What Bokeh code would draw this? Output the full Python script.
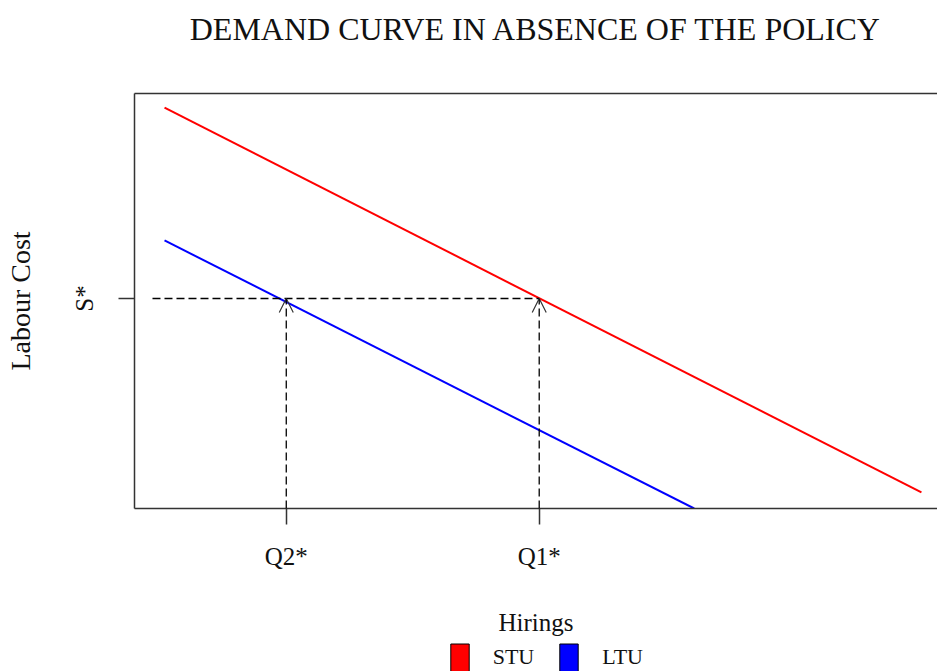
from bokeh.plotting import figure
from bokeh.layouts import column
from bokeh.models import (Range1d, LinearAxis, FixedTicker, Arrow, OpenHead,
                          Legend, LegendItem)
from bokeh.embed import file_html
from bokeh.resources import INLINE

# ---- data ----
stu_x = [0.374, 9.80]
stu_y = [9.66, 0.386]
ltu_x = [0.374, 6.97]
ltu_y = [6.46, 0.0]
s_star = 5.06
q2_star = 1.89
q1_star = 5.04
guide_start = 0.224
x_ticks = [q2_star, q1_star]
x_tick_labels = ["Q2*", "Q1*"]
y_ticks = [s_star]
y_tick_labels = ["S*"]
series_names = ["STU", "LTU"]
series_colors = ["#ff0000", "#0000ff"]
title_text = "DEMAND CURVE IN ABSENCE OF THE POLICY"

FONT = "Liberation Serif"
NAN = float("nan")

p = figure(width=937, height=638, output_backend="svg", toolbar_location=None,
           x_range=Range1d(0, 10), y_range=Range1d(0, 10),
           x_axis_type=None, y_axis_type=None,
           min_border_left=134, min_border_right=0, min_border_top=93,
           min_border_bottom=130)
p.outline_line_color = None
p.xgrid.visible = False
p.ygrid.visible = False
p.background_fill_color = "white"
p.border_fill_color = "white"

def style_axis(ax):
    ax.axis_line_color = "#333333"
    ax.axis_line_width = 1.5
    ax.major_tick_line_color = "#333333"
    ax.major_tick_line_width = 1.5
    ax.major_tick_out = 16
    ax.major_tick_in = 0
    ax.minor_tick_line_color = None
    ax.major_label_text_font = FONT
    ax.major_label_text_color = "#111111"
    ax.axis_label_text_font = FONT
    ax.axis_label_text_font_style = "normal"
    ax.axis_label_text_color = "#111111"

# top edge of the box, carrying the chart title
ta = LinearAxis(ticker=FixedTicker(ticks=[]), axis_label=title_text)
style_axis(ta)
ta.major_tick_out = 0
ta.major_label_standoff = 0
ta.axis_label_text_font_size = "32px"
ta.axis_label_standoff = 47
p.add_layout(ta, "above")

xa = LinearAxis(ticker=FixedTicker(ticks=x_ticks),
                major_label_overrides=dict(zip(x_ticks, x_tick_labels)),
                axis_label="Hirings")
style_axis(xa)
xa.major_label_text_font_size = "25px"
xa.axis_label_text_font_size = "25px"
xa.major_label_standoff = 18
xa.axis_label_standoff = 36
p.add_layout(xa, "below")

ya = LinearAxis(ticker=FixedTicker(ticks=y_ticks),
                major_label_overrides=dict(zip(y_ticks, y_tick_labels)),
                axis_label="Labour Cost")
style_axis(ya)
ya.major_label_text_font_size = "25px"
ya.major_label_orientation = "vertical"
ya.axis_label_text_font_size = "28px"
ya.major_label_standoff = 20
ya.axis_label_standoff = 33
p.add_layout(ya, "left")

# demand curves
p.line(stu_x, stu_y, line_color=series_colors[0], line_width=2)
p.line(ltu_x, ltu_y, line_color=series_colors[1], line_width=2)

# guides
p.line([guide_start, q1_star], [s_star, s_star], line_color="black", line_width=1.3,
       line_dash="8 4")
for q in x_ticks:
    p.add_layout(Arrow(x_start=q, y_start=0, x_end=q, y_end=s_star,
                       line_color="black", line_width=1.3, line_dash="8 4",
                       end=OpenHead(size=14, line_color="#333333", line_width=1.2)))

# legend strip under the chart (its frame is aligned with the chart's frame)
lg = figure(width=937, height=33, output_backend="svg", toolbar_location=None,
            x_range=Range1d(0, 1), y_range=Range1d(0, 1),
            x_axis_type=None, y_axis_type=None,
            min_border_left=134, min_border_right=0, min_border_top=0,
            min_border_bottom=0)
lg.outline_line_color = None
lg.xgrid.visible = False
lg.ygrid.visible = False
lg.background_fill_color = "white"
lg.border_fill_color = "white"

# placeholder renderers (no visible mark) that give the legend its swatches
r_stu = lg.quad(left=[NAN], right=[NAN], top=[NAN], bottom=[NAN],
                fill_color=series_colors[0], line_color="black", line_width=1)
r_ltu = lg.quad(left=[NAN], right=[NAN], top=[NAN], bottom=[NAN],
                fill_color=series_colors[1], line_color="black", line_width=1)
legend = Legend(items=[LegendItem(label=series_names[0], renderers=[r_stu]),
                       LegendItem(label=series_names[1], renderers=[r_ltu])],
                location=(313.7, -3.5), orientation="horizontal",
                glyph_width=23, glyph_height=35, label_standoff=22, spacing=23,
                padding=0, margin=0, border_line_color=None,
                background_fill_alpha=0, label_text_font=FONT,
                label_text_font_size="22px", label_text_color="#111111")
lg.add_layout(legend, "center")

layout = column(p, lg, spacing=0)
open("out.html", "w").write(file_html(layout, INLINE))
